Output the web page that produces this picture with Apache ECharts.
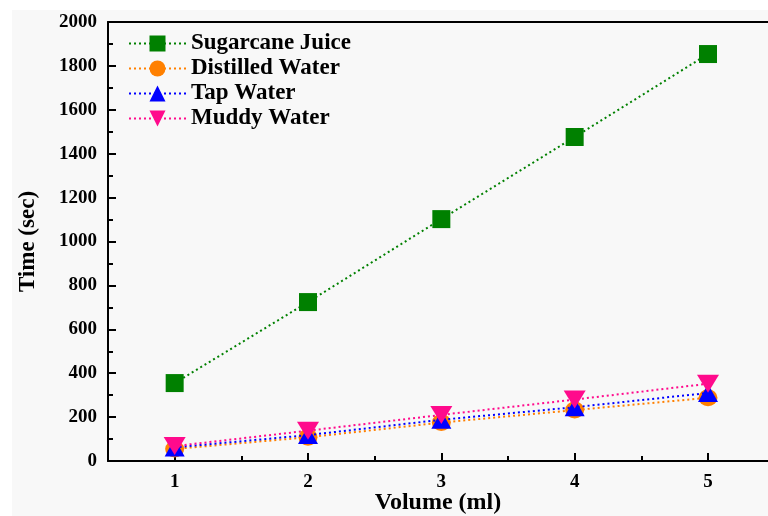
<!DOCTYPE html>
<html><head><meta charset="utf-8">
<script src="https://cdn.jsdelivr.net/npm/echarts@6/dist/echarts.min.js"></script>
<style>html,body{margin:0;padding:0;background:#fff}#c{width:768px;height:516px}</style>
</head><body><div id="c"></div>
<script>
const volumes = [1, 2, 3, 4, 5];
const seriesNames = ['Sugarcane Juice', 'Distilled Water', 'Tap Water', 'Muddy Water'];
const sugarcane = [355, 724, 1102, 1476, 1854];
const distilled = [55, 108, 175, 232, 288];
const tap = [62, 118, 188, 245, 310];
const muddy = [68, 138, 210, 280, 352];
const xMajorTicks = [1, 2, 3, 4, 5];
const xMinorTicks = [1.5, 2.5, 3.5, 4.5];

const font = 'Liberation Serif';
const colors = ['#008000', '#ff8000', '#0000ff', '#ff0a8c'];
const symbols = ['rect', 'circle', 'triangle', 'path://M0,0 L10,0 L5,9 Z'];
const sizes = [[18, 18], [19, 17], [20, 18], [22, 18]];
const dataSets = [sugarcane, distilled, tap, muddy];

const chart = echarts.init(document.getElementById('c'));
const grid = { left: 108, right: 0, top: 22, bottom: 55, outerBoundsMode: 'none', containLabel: false };
const xBase = {
  type: 'value', min: 0.5, max: 5.45, gridIndex: 0,
  splitLine: { show: false }
};
chart.setOption({
  backgroundColor: '#f8f8f8',
  animation: false,
  graphic: [
    { type: 'rect', shape: { x: 0, y: 0, width: 768, height: 10 }, style: { fill: '#fff' }, z: -1 },
    { type: 'rect', shape: { x: 0, y: 0, width: 12, height: 516 }, style: { fill: '#fff' }, z: -1 }
  ],
  grid: grid,
  legend: {
    left: 123, top: 27, orient: 'vertical', itemGap: 2,
    itemWidth: 57, itemHeight: 20,
    textStyle: { fontFamily: font, fontWeight: 'bold', fontSize: 23, color: '#000' },
    data: seriesNames
  },
  xAxis: [
    Object.assign({}, xBase, {
      position: 'bottom',
      name: 'Volume (ml)', nameLocation: 'middle', nameGap: 30, nameMoveOverlap: false,
      nameTextStyle: { fontFamily: font, fontWeight: 'bold', fontSize: 24, color: '#000' },
      axisLine: { lineStyle: { color: '#000', width: 2 } },
      axisTick: { inside: true, length: 8, lineStyle: { color: '#000', width: 2 }, customValues: xMajorTicks },
      axisLabel: { customValues: xMajorTicks, margin: 12, fontFamily: font, fontWeight: 'bold', fontSize: 19, color: '#000' }
    }),
    Object.assign({}, xBase, {
      position: 'bottom',
      axisLine: { show: false },
      axisTick: { inside: true, length: 5, lineStyle: { color: '#000', width: 2 }, customValues: xMinorTicks },
      axisLabel: { show: false }
    }),
    Object.assign({}, xBase, {
      position: 'top',
      axisLine: { lineStyle: { color: '#000', width: 2 } },
      axisTick: { show: false },
      axisLabel: { show: false }
    })
  ],
  yAxis: {
    type: 'value', min: 0, max: 2000, interval: 200,
    name: 'Time (sec)', nameLocation: 'middle', nameGap: 68, nameMoveOverlap: false,
    nameTextStyle: { fontFamily: font, fontWeight: 'bold', fontSize: 23, color: '#000' },
    axisLine: { show: true, lineStyle: { color: '#000', width: 2 } },
    axisTick: { inside: true, length: 8, lineStyle: { color: '#000', width: 2 } },
    minorTick: { show: true, splitNumber: 2, length: 5, lineStyle: { color: '#000', width: 2 } },
    splitLine: { show: false },
    axisLabel: { margin: 11, formatter: v => String(v), fontFamily: font, fontWeight: 'bold', fontSize: 19, color: '#000' }
  },
  series: seriesNames.map((n, i) => ({
    name: n, type: 'line', xAxisIndex: 0,
    data: volumes.map((v, j) => [v, dataSets[i][j]]),
    symbol: symbols[i], symbolSize: sizes[i],
    lineStyle: { color: colors[i], width: 2, type: [2, 3] },
    itemStyle: { color: colors[i] },
    z: 2 + i
  }))
});
</script></body></html>
